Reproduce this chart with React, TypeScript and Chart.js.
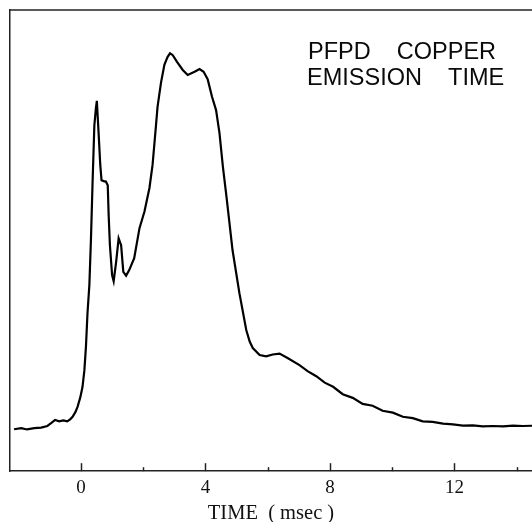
import React, { useEffect, useRef } from "react";
import { Chart, registerables } from "chart.js";

Chart.register(...registerables);

const timeMs: number[] = [
  -2.15, -1.92, -1.73, -1.5, -1.28, -1.08, -0.96, -0.83, -0.7, -0.57, -0.44, -0.34, -0.27, -0.18, -0.11, -0.02,
  0.05, 0.11, 0.16, 0.21, 0.27, 0.32, 0.37, 0.43, 0.48, 0.51, 0.57, 0.62, 0.66, 0.73, 0.8, 0.86, 0.89, 0.93,
  1.0, 1.05, 1.13, 1.21, 1.29, 1.36, 1.45, 1.55, 1.71, 1.88, 2.04, 2.2, 2.3, 2.41, 2.46, 2.57, 2.68, 2.78,
  2.86, 2.95, 3.08, 3.27, 3.43, 3.65, 3.81, 3.94, 4.07, 4.21, 4.34, 4.45, 4.56, 4.68, 4.87, 5.09, 5.31, 5.42,
  5.52, 5.74, 5.95, 6.16, 6.38, 6.65, 7.02, 7.28, 7.56, 7.83, 8.1, 8.41, 8.73, 9.05, 9.37, 9.69, 10.02, 10.34,
  10.66, 10.98, 11.3, 11.63, 11.95, 12.27, 12.59, 12.91, 13.23, 13.56, 13.88, 14.2, 14.49,
];

const emission: number[] = [
  9.1, 9.35, 9.05, 9.35, 9.45, 9.8, 10.4, 11.1, 10.8, 11.0, 10.8, 11.3, 11.8, 12.8, 13.95, 16.05,
  18.3, 21.9, 27.0, 34.3, 40.4, 50.1, 62.0, 75.0, 78.7, 80.3, 72.9, 66.4, 63.1, 62.9, 62.8, 62.0, 55.5, 49.0,
  42.5, 41.2, 45.4, 50.5, 49.0, 43.2, 42.4, 43.6, 46.2, 52.7, 56.3, 61.4, 66.4, 75.0, 79.0, 84.2, 88.1, 89.8,
  90.6, 90.2, 88.8, 87.0, 85.9, 86.6, 87.2, 86.6, 85.0, 81.2, 78.3, 73.3, 66.0, 59.2, 47.9, 38.6, 30.6, 28.1,
  26.7, 25.2, 24.9, 25.3, 25.5, 24.5, 23.0, 21.7, 20.6, 19.2, 18.3, 16.7, 15.9, 14.6, 14.2, 13.1, 12.7, 11.8,
  11.5, 10.8, 10.7, 10.3, 10.15, 9.9, 9.95, 9.7, 9.8, 9.7, 9.9, 9.8, 9.85,
];

const tickValues: number[] = [0, 2, 4, 6, 8, 10, 12, 14];
const labeledTicks: number[] = [0, 4, 8, 12];
const titleLines: string[] = ["PFPD    COPPER", "EMISSION    TIME"];
const xTitle = "TIME  ( msec )";

const framePlugin = {
  id: "frameAndTicks",
  afterDraw(chart: any) {
    const { ctx, chartArea, scales } = chart;
    const xs = scales.x;
    ctx.save();
    ctx.strokeStyle = "#222";
    ctx.lineWidth = 1.5;
    ctx.beginPath();
    ctx.moveTo(chartArea.left, chartArea.top);
    ctx.lineTo(chartArea.right, chartArea.top);
    ctx.stroke();
    tickValues.forEach((v) => {
      const px = Math.round(xs.getPixelForValue(v)) + 0.5;
      const len = labeledTicks.includes(v) ? 8 : 4;
      ctx.beginPath();
      ctx.moveTo(px, chartArea.bottom);
      ctx.lineTo(px, chartArea.bottom - len);
      ctx.stroke();
    });
    ctx.fillStyle = "#0a0a0a";
    ctx.font = '23.5px "Liberation Sans", Arial, sans-serif';
    ctx.textBaseline = "alphabetic";
    ctx.textAlign = "left";
    ctx.fillText(titleLines[0], 308, 59);
    ctx.fillText(titleLines[1], 307, 85);
    ctx.restore();
  },
};

export default function App() {
  const ref = useRef<HTMLCanvasElement | null>(null);
  useEffect(() => {
    if (!ref.current) return;
    const chart = new Chart(ref.current, {
      type: "line",
      data: {
        datasets: [
          {
            data: timeMs.map((t, i) => ({ x: t, y: emission[i] })),
            borderColor: "#000",
            borderWidth: 2.2,
            pointRadius: 0,
            tension: 0,
            fill: false,
          },
        ],
      },
      options: {
        animation: false,
        responsive: false,
        layout: { padding: { left: 10, top: 10, right: 0, bottom: 0 } },
        plugins: { legend: { display: false }, tooltip: { enabled: false } },
        scales: {
          x: {
            type: "linear",
            min: -2.28,
            max: 14.49,
            afterBuildTicks: (scale: any) => {
              scale.ticks = tickValues.map((v) => ({ value: v }));
            },
            grid: { display: false, drawTicks: false },
            border: { display: true, color: "#222", width: 1.5 },
            ticks: {
              padding: 7.5,
              color: "#111",
              maxRotation: 0,
              autoSkip: false,
              font: { family: '"Liberation Serif", "Times New Roman", serif', size: 19, lineHeight: 1 },
              callback: (v: any) => (labeledTicks.includes(Number(v)) ? String(v) : ""),
            },
            title: {
              display: true,
              text: xTitle,
              color: "#111",
              padding: { top: 0, bottom: 0 },
              font: { family: '"Liberation Serif", "Times New Roman", serif', size: 20.5, lineHeight: 0.82 },
            },
          },
          y: {
            min: 0,
            max: 100,
            grid: { display: false, drawTicks: false },
            border: { display: true, color: "#222", width: 1.5 },
            ticks: { display: false },
          },
        },
      },
      plugins: [framePlugin],
    });
    return () => chart.destroy();
  }, []);
  return (
    <div style={{ position: "fixed", left: 0, top: 0, width: 532, height: 522, overflow: "hidden", background: "#fff" }}>
      <canvas ref={ref} width={532} height={522} />
    </div>
  );
}
